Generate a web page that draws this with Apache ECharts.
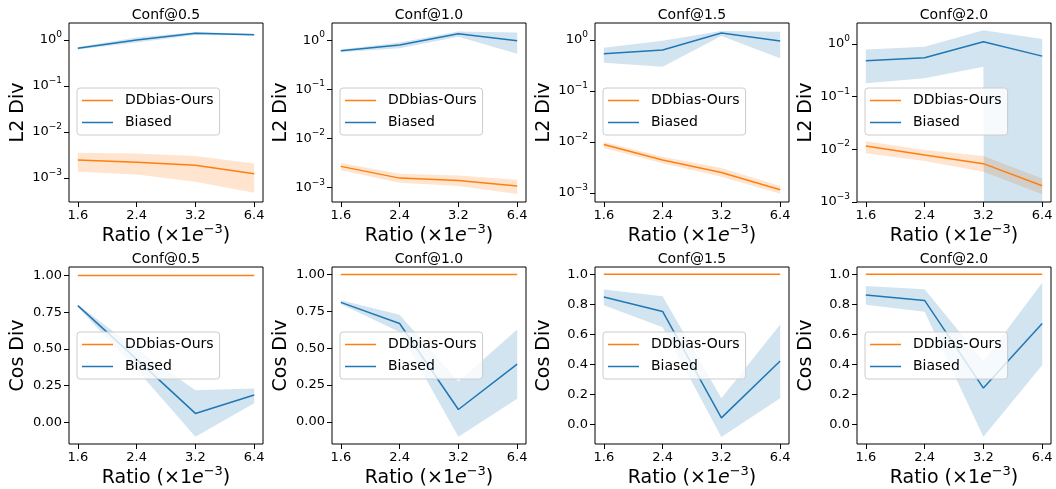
<!DOCTYPE html>
<html>
<head>
<meta charset="utf-8">
<title>L2 / Cos Div vs Ratio</title>
<script src="https://cdn.jsdelivr.net/npm/echarts@6.0.0/dist/echarts.min.js"></script>
<style>
  html, body { margin: 0; padding: 0; background: #fff; }
  #chart { width: 1056px; height: 489px; }
</style>
</head>
<body>
<div id="chart"></div>
<script>
// === Data === //
const ratios = ['1.6', '2.4', '3.2', '6.4']
const confs = ['Conf@0.5', 'Conf@1.0', 'Conf@1.5', 'Conf@2.0']

// L2 Div (log scale), one array per conf
const l2Ours05 = [2.46e-3, 2.2e-3, 1.9e-3, 1.24e-3]
const l2OursLo05 = [1.37e-3, 1.2e-3, 0.83e-3, 0.48e-3]
const l2OursHi05 = [3.55e-3, 3.4e-3, 3.0e-3, 2.08e-3]
const l2Biased05 = [0.66, 1.0, 1.4, 1.3]
const l2BiasedLo05 = [0.62, 0.88, 1.29, 1.25]
const l2BiasedHi05 = [0.7, 1.13, 1.5, 1.36]

const l2Ours10 = [2.72e-3, 1.57e-3, 1.41e-3, 1.08e-3]
const l2OursLo10 = [2.26e-3, 1.26e-3, 1.08e-3, 0.75e-3]
const l2OursHi10 = [3.2e-3, 1.93e-3, 1.78e-3, 1.46e-3]
const l2Biased10 = [0.61, 0.8, 1.35, 0.98]
const l2BiasedLo10 = [0.57, 0.69, 1.17, 0.53]
const l2BiasedHi10 = [0.645, 0.9, 1.5, 1.43]

const l2Ours15 = [8.86e-3, 4.4e-3, 2.5e-3, 1.15e-3]
const l2OursLo15 = [7.6e-3, 3.8e-3, 2.07e-3, 0.96e-3]
const l2OursHi15 = [1.0e-2, 5.1e-3, 3.07e-3, 1.37e-3]
const l2Biased15 = [0.54, 0.635, 1.37, 0.955]
const l2BiasedLo15 = [0.36, 0.3, 1.2, 0.44]
const l2BiasedHi15 = [0.705, 0.97, 1.5, 1.46]

const l2Ours20 = [1.16e-2, 7.8e-3, 5.35e-3, 2.04e-3]
const l2OursLo20 = [8.4e-3, 6.0e-3, 3.77e-3, 1.4e-3]
const l2OursHi20 = [1.43e-2, 9.7e-3, 7.5e-3, 2.8e-3]
const l2Biased20 = [0.48, 0.55, 1.11, 0.59]
const l2BiasedLo20 = [0.18, 0.225, 0.37, 0] // lower bound <= 0 at 6.4
const l2BiasedHi20 = [0.79, 0.89, 1.83, 1.25]

// Cos Div
const cosOurs = [1, 1, 1, 1]
const cosBiased05 = [0.794, 0.43, 0.061, 0.186]
const cosBiasedLo05 = [0.785, 0.36, -0.097, 0.13]
const cosBiasedHi05 = [0.8, 0.5, 0.219, 0.231]

const cosBiased10 = [0.81, 0.667, 0.084, 0.392]
const cosBiasedLo10 = [0.8, 0.61, -0.1, 0.156]
const cosBiasedHi10 = [0.825, 0.727, 0.274, 0.627]

const cosBiased15 = [0.849, 0.753, 0.045, 0.423]
const cosBiasedLo15 = [0.795, 0.648, -0.082, 0.176]
const cosBiasedHi15 = [0.9, 0.855, 0.176, 0.666]

const cosBiased20 = [0.862, 0.826, 0.241, 0.672]
const cosBiasedLo20 = [0.797, 0.75, -0.083, 0.393]
const cosBiasedHi20 = [0.922, 0.9, 0.42, 0.944]

// tick values
const l2Ticks = [0.001, 0.01, 0.1, 1]
const cosTicksA = [0, 0.25, 0.5, 0.75, 1]
const cosTicksB = [0, 0.2, 0.4, 0.6, 0.8, 1]

// === Panels === //
const panels = [
  { row: 0, ours: [l2Ours05, l2OursLo05, l2OursHi05], biased: [l2Biased05, l2BiasedLo05, l2BiasedHi05], ymin: 3.02e-4, ymax: 2.34 },
  { row: 0, ours: [l2Ours10, l2OursLo10, l2OursHi10], biased: [l2Biased10, l2BiasedLo10, l2BiasedHi10], ymin: 5.13e-4, ymax: 2.24 },
  { row: 0, ours: [l2Ours15, l2OursLo15, l2OursHi15], biased: [l2Biased15, l2BiasedLo15, l2BiasedHi15], ymin: 6.61e-4, ymax: 2.16 },
  { row: 0, ours: [l2Ours20, l2OursLo20, l2OursHi20], biased: [l2Biased20, l2BiasedLo20, l2BiasedHi20], ymin: 1e-3, ymax: 2.51 },
  { row: 1, ours: [cosOurs, cosOurs, cosOurs], biased: [cosBiased05, cosBiasedLo05, cosBiasedHi05], ymin: -0.147, ymax: 1.057, ticks: cosTicksA, digits: 2 },
  { row: 1, ours: [cosOurs, cosOurs, cosOurs], biased: [cosBiased10, cosBiasedLo10, cosBiasedHi10], ymin: -0.15, ymax: 1.05, ticks: cosTicksA, digits: 2 },
  { row: 1, ours: [cosOurs, cosOurs, cosOurs], biased: [cosBiased15, cosBiasedLo15, cosBiasedHi15], ymin: -0.129, ymax: 1.049, ticks: cosTicksB, digits: 1 },
  { row: 1, ours: [cosOurs, cosOurs, cosOurs], biased: [cosBiased20, cosBiasedLo20, cosBiasedHi20], ymin: -0.132, ymax: 1.049, ticks: cosTicksB, digits: 1 }
]

const BLUE = '#1f77b4'
const ORANGE = '#ff7f0e'
const FONT = 'DejaVu Sans'
const lefts = [69, 332, 595, 857]
const tops = [23, 267]
const heights = [179, 177]
const W = 194

// log scale clips nonpositive values (like matplotlib)
const clipLog = v => (v > 0 ? v : 1e-300)

const bandSeries = (k, lo, hi, fill, isLog) => ({
  type: 'custom',
  xAxisIndex: k,
  yAxisIndex: k,
  z: 1,
  silent: true,
  clip: true,
  data: [[0, 1]],
  encode: { x: 0, y: 1 },
  renderItem: (params, api) => {
    const f = isLog ? clipLog : v => v
    const up = hi.map((v, i) => api.coord([i, f(v)]))
    const down = lo.map((v, i) => api.coord([i, f(v)])).reverse()
    return { type: 'polygon', shape: { points: up.concat(down) }, style: { fill } }
  }
})

const lineSeries = (k, name, vals, color) => ({
  type: 'line',
  name,
  xAxisIndex: k,
  yAxisIndex: k,
  z: 3,
  symbol: 'none',
  showSymbol: false,
  clip: true,
  lineStyle: { width: 1.5, color },
  itemStyle: { color },
  data: vals.map((v, i) => [i, v])
})

const grid = []
const xAxis = []
const yAxis = []
const series = []
const legend = []
const graphic = []

panels.forEach((p, k) => {
  const col = k % 4
  const left = lefts[col]
  const top = tops[p.row]
  const isLog = p.row === 0

  grid.push({ left, top, width: W, height: heights[p.row], show: true, borderColor: '#000', borderWidth: 1, backgroundColor: 'transparent', outerBoundsMode: 'none' })

  xAxis.push({
    type: 'value',
    gridIndex: k,
    min: -0.15,
    max: 3.15,
    axisLine: { show: false, onZero: false },
    splitLine: { show: false },
    axisTick: { show: true, customValues: [0, 1, 2, 3], length: 5, lineStyle: { color: '#000', width: 1 } },
    axisLabel: { customValues: [0, 1, 2, 3], formatter: v => ratios[Math.round(v)], fontSize: 13, color: '#000', margin: 7, fontFamily: FONT },
    name: '{n|Ratio (×1}{i|e}{s|−3}{n|)}',
    nameLocation: 'middle',
    nameGap: 9,
    nameTextStyle: {
      rich: {
        n: { fontSize: 19, fontFamily: FONT, color: '#000', lineHeight: 26 },
        i: { fontSize: 19, fontFamily: FONT, fontStyle: 'italic', color: '#000', lineHeight: 26 },
        s: { fontSize: 13, fontFamily: FONT, color: '#000', lineHeight: 13, verticalAlign: 'top' }
      }
    }
  })

  const yBase = {
    gridIndex: k,
    min: p.ymin,
    max: p.ymax,
    axisLine: { show: false, onZero: false },
    splitLine: { show: false },
    name: isLog ? 'L2 Div' : 'Cos Div',
    nameLocation: 'middle',
    nameGap: 41,
    nameTextStyle: { fontSize: 19, fontFamily: FONT, color: '#000' }
  }
  if (isLog) {
    yAxis.push({
      ...yBase,
      type: 'log',
      logBase: 10,
      axisTick: { show: true, customValues: l2Ticks, length: 5, lineStyle: { color: '#000', width: 1 } },
      axisLabel: {
        customValues: l2Ticks,
        margin: 7,
        formatter: v => '{b|10}{s|' + String(Math.round(Math.log10(v))).replace('-', '−') + '}',
        rich: {
          b: { fontSize: 13, fontFamily: FONT, color: '#000', lineHeight: 20 },
          s: { fontSize: 9, fontFamily: FONT, color: '#000', lineHeight: 10, verticalAlign: 'top' }
        }
      }
    })
  } else {
    yAxis.push({
      ...yBase,
      type: 'value',
      axisTick: { show: true, customValues: p.ticks, length: 5, lineStyle: { color: '#000', width: 1 } },
      axisLabel: { customValues: p.ticks, margin: 7, fontSize: 13, color: '#000', fontFamily: FONT, formatter: v => v.toFixed(p.digits) }
    })
  }

  series.push(bandSeries(k, p.ours[1], p.ours[2], 'rgba(255,127,14,0.2)', isLog))
  series.push(bandSeries(k, p.biased[1], p.biased[2], 'rgba(31,119,180,0.2)', isLog))
  series.push(lineSeries(k, 'DDbias-Ours', p.ours[0], ORANGE))
  series.push(lineSeries(k, 'Biased', p.biased[0], BLUE))

  legend.push({
    orient: 'vertical',
    left: left + 8,
    top: top + 65,
    data: ['DDbias-Ours', 'Biased'],
    icon: 'rect',
    itemWidth: 31,
    itemHeight: 1.5,
    itemGap: 5,
    padding: [4, 6, 4, 5],
    backgroundColor: 'rgba(255,255,255,0.8)',
    borderColor: '#cccccc',
    borderWidth: 1,
    borderRadius: 3,
    selectedMode: false,
    textStyle: { fontSize: 14, fontFamily: FONT, color: '#000', lineHeight: 17, padding: [0, 0, 0, 7] }
  })

  graphic.push({
    type: 'text',
    x: left + W / 2,
    y: p.row === 0 ? 15 : 259,
    silent: true,
    style: { text: confs[col], fontSize: 14, fontFamily: FONT, fill: '#000', align: 'center', verticalAlign: 'middle' }
  })
})

const myChart = echarts.init(document.getElementById('chart'))
myChart.setOption({
  animation: false,
  backgroundColor: '#fff',
  textStyle: { fontFamily: FONT },
  grid,
  xAxis,
  yAxis,
  series,
  legend,
  graphic
})
</script>
</body>
</html>
